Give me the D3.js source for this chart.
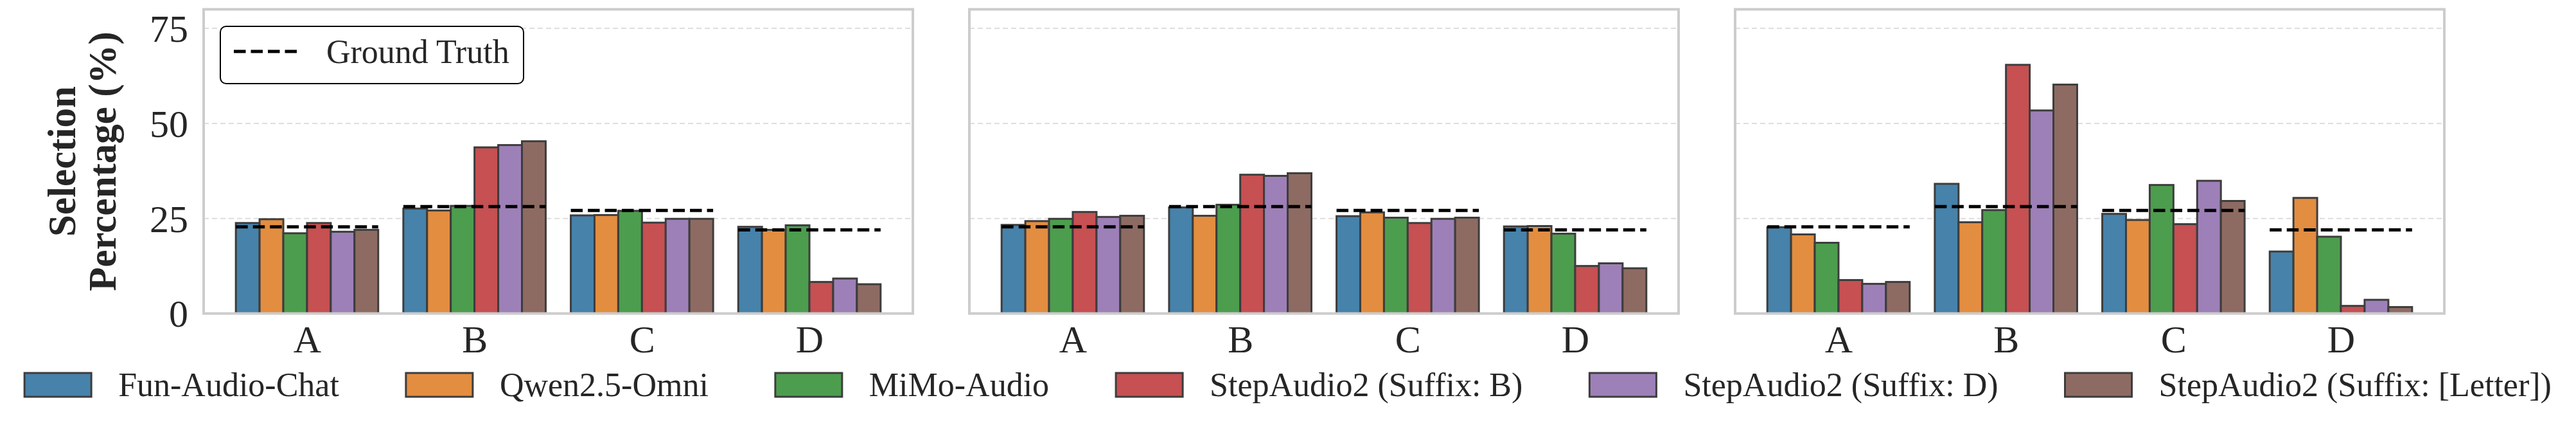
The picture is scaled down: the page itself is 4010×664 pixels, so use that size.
<!DOCTYPE html>
<meta charset="utf-8">
<style>
  body { margin: 0; background: #fff; }
  text { font-family: "Liberation Serif", "Times New Roman", serif; fill: #262626; }
  .tick line, .domain { display: none; }
</style>
<body>
<script src="https://d3js.org/d3.v7.min.js"></script>
<div id="chart"></div>
<script>

// categories and models
var categories = ["A", "B", "C", "D"];
var models = ["Fun-Audio-Chat", "Qwen2.5-Omni", "MiMo-Audio",
              "StepAudio2 (Suffix: B)", "StepAudio2 (Suffix: D)", "StepAudio2 (Suffix: [Letter])"];
var colors = ["#4682aa", "#e38d40", "#4d9d4e", "#c65052", "#9e80b8", "#8e6b62"];

// ground truth share of each letter (%)
var groundTruth = [22.8, 28.1, 27.1, 22.0];

// selection percentage, one row per model (A, B, C, D)
var panel1 = [
  [23.8, 27.6, 25.8, 22.8],
  [24.8, 27.1, 25.9, 22.0],
  [21.1, 28.3, 27.0, 23.2],
  [23.8, 43.7, 23.9,  8.3],
  [21.5, 44.3, 24.9,  9.2],
  [22.0, 45.3, 24.9,  7.7]
];
var panel2 = [
  [23.3, 27.9, 25.6, 22.9],
  [24.3, 25.7, 26.6, 23.0],
  [24.9, 28.6, 25.2, 21.0],
  [26.7, 36.5, 23.8, 12.5],
  [25.4, 36.2, 24.9, 13.2],
  [25.7, 36.9, 25.2, 11.9]
];
var panel3 = [
  [22.7, 34.1, 26.2, 16.3],
  [20.8, 24.0, 24.6, 30.4],
  [18.6, 27.2, 33.8, 20.2],
  [ 8.8, 65.4, 23.5,  2.0],
  [ 7.8, 53.4, 34.9,  3.6],
  [ 8.3, 60.2, 29.6,  1.7]
];
var panels = [panel1, panel2, panel3];
var yTicks = [0, 25, 50, 75];

var width = 4010, height = 664;
var panelLeft = [317, 1509, 2701], panelWidth = 1104;
var groupWidth = 0.85, barW = groupWidth / models.length;

var svg = d3.select("#chart").append("svg")
    .attr("width", width)
    .attr("height", height);

svg.append("rect").attr("width", width).attr("height", height).attr("fill", "#fff");

var y = d3.scaleLinear().domain([0, 80]).range([487.5, 14.5]);

panels.forEach(function(data, p) {
  var x = d3.scaleLinear()
      .domain([-0.6175, 3.6175])
      .range([panelLeft[p], panelLeft[p] + panelWidth]);

  var g = svg.append("g").attr("class", "panel");

  // dashed grid
  g.selectAll(".grid")
    .data(yTicks.slice(1))
    .enter().append("line")
      .attr("x1", x.range()[0]).attr("x2", x.range()[1])
      .attr("y1", function(d) { return y(d); })
      .attr("y2", function(d) { return y(d); })
      .style("stroke", "#dedede")
      .style("stroke-width", 2)
      .style("stroke-dasharray", "8,5");

  // bars
  data.forEach(function(vals, m) {
    g.selectAll(".bar" + m)
      .data(vals)
      .enter().append("rect")
        .attr("x", function(d, i) { return x(i - groupWidth / 2 + m * barW); })
        .attr("width", x(barW) - x(0))
        .attr("y", function(d) { return y(d); })
        .attr("height", function(d) { return y(0) - y(d); })
        .style("fill", colors[m])
        .style("stroke", "#3d3d3d")
        .style("stroke-width", 3);
  });

  // frame
  g.append("rect")
    .attr("x", x.range()[0]).attr("y", y(80))
    .attr("width", panelWidth).attr("height", y(0) - y(80))
    .style("fill", "none")
    .style("stroke", "#cccccc")
    .style("stroke-width", 4);

  // ground truth
  g.selectAll(".gt")
    .data(groundTruth)
    .enter().append("line")
      .attr("x1", function(d, i) { return x(i - groupWidth / 2); })
      .attr("x2", function(d, i) { return x(i + groupWidth / 2); })
      .attr("y1", function(d) { return y(d); })
      .attr("y2", function(d) { return y(d); })
      .style("stroke", "#000")
      .style("stroke-width", 5)
      .style("stroke-dasharray", "18.5,8");

  // x axis
  g.append("g")
    .attr("transform", "translate(0," + y(0) + ")")
    .call(d3.axisBottom(x).tickValues([0, 1, 2, 3])
      .tickFormat(function(d) { return categories[d]; }).tickSize(0))
    .call(function(a) {
      a.selectAll("text").attr("y", 0).attr("dy", 0)
        .attr("transform", "translate(0,60)")
        .style("font-size", "60px").style("fill", "#262626");
    });

  if (p === 0) {
    g.append("g")
      .attr("transform", "translate(" + x.range()[0] + ",0)")
      .call(d3.axisLeft(y).tickValues(yTicks).tickSize(0).tickPadding(24))
      .call(function(a) {
        a.selectAll("text").attr("dy", "0.34em")
          .style("font-size", "60px").style("fill", "#262626");
      });

    // y label
    var yl = g.append("text")
      .attr("transform", "translate(117,251) rotate(-90)")
      .attr("text-anchor", "middle")
      .style("font-size", "61px").style("font-weight", "bold");
    yl.append("tspan").attr("x", 0).attr("y", 0).text("Selection");
    yl.append("tspan").attr("x", 0).attr("y", 63).text("Percentage (%)");

    // ground truth legend
    g.append("rect")
      .attr("x", 343).attr("y", 41).attr("width", 472).attr("height", 89).attr("rx", 9)
      .style("fill", "#fff").style("stroke", "#000").style("stroke-width", 2);
    g.append("line")
      .attr("x1", 364).attr("x2", 466).attr("y1", 80).attr("y2", 80)
      .style("stroke", "#000").style("stroke-width", 5)
      .style("stroke-dasharray", "18.5,8");
    g.append("text").attr("x", 508).attr("y", 98)
      .style("font-size", "52px").text("Ground Truth");
  }
});

// bottom legend, centered
var leg = svg.append("g").attr("class", "legend");
var items = leg.selectAll(".item").data(models).enter().append("g");
items.append("rect")
  .attr("x", 0).attr("y", 580).attr("width", 104).attr("height", 37)
  .style("fill", function(d, i) { return colors[i]; })
  .style("stroke", "#3d3d3d").style("stroke-width", 3);
items.append("text")
  .attr("x", 146).attr("y", 616)
  .style("font-size", "52px")
  .text(function(d) { return d; });

var offsets = [], cur = 0;
items.each(function() {
  offsets.push(cur);
  cur += 146 + d3.select(this).select("text").node().getComputedTextLength() + 104;
});
var total = cur - 104;
var start = width / 2 - total / 2;
items.attr("transform", function(d, i) { return "translate(" + (start + offsets[i]) + ",0)"; });

</script>
</body>
